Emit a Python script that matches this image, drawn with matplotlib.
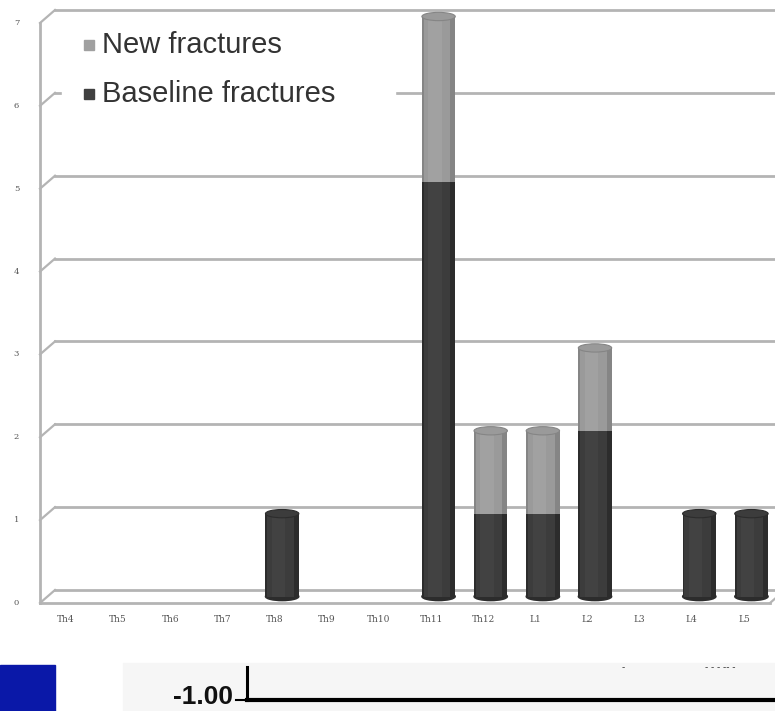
import matplotlib.pyplot as plt
import matplotlib.transforms as mtransforms
from matplotlib.patches import Ellipse, Rectangle
import numpy as np

plt.rcParams['font.family'] = ['Liberation Sans', 'DejaVu Sans']

levels = ["Th4", "Th5", "Th6", "Th7", "Th8", "Th9", "Th10",
          "Th11", "Th12", "L1", "L2", "L3", "L4", "L5"]
baseline = [0, 0, 0, 0, 1, 0, 0, 5, 1, 1, 2, 0, 1, 1]
new = [0, 0, 0, 0, 0, 0, 0, 2, 1, 1, 1, 0, 0, 0]
yticks = [0, 1, 2, 3, 4, 5, 6, 7]

W, H = 775, 711
fig = plt.figure(figsize=(W / 100, H / 100), dpi=100)
fig.patch.set_facecolor("white")

# front plane of the 3-D box: x 40..770 px, y(0)=603 px, y(7)=23 px
ax = fig.add_axes([40 / W, (H - 603) / H, 730 / W, 580 / H])
ax.set_xlim(-0.5, len(levels) - 0.5)
ax.set_ylim(0, 7)
ax.axis("off")

depth = mtransforms.ScaledTranslation(0.15, 0.13, fig.dpi_scale_trans)
half = mtransforms.ScaledTranslation(0.075, 0.065, fig.dpi_scale_trans)
back = ax.transData + depth
mid = ax.transData + half

grid_c = "#b4b4b4"
x0, x1 = -0.5, len(levels) - 0.5

# back wall gridlines and slanted connectors on the side wall
for v in yticks:
    ax.plot([x0, x1], [v, v], color=grid_c, lw=2.0, transform=back,
            clip_on=False, zorder=1)
    p0 = ax.transData.transform((x0, v))
    p1 = back.transform((x0, v))
    fig.add_artist(plt.Line2D([p0[0] / W, p1[0] / W], [p0[1] / H, p1[1] / H],
                              color=grid_c, lw=1.6, zorder=1))
# front vertical axis, floor front edge and right floor edge
ax.plot([x0, x0], [0, 7], color=grid_c, lw=2.0, clip_on=False, zorder=1)
ax.plot([x0, x1], [0, 0], color=grid_c, lw=2.0, clip_on=False, zorder=1)
p0 = ax.transData.transform((x1, 0))
p1 = back.transform((x1, 0))
fig.add_artist(plt.Line2D([p0[0] / W, p1[0] / W], [p0[1] / H, p1[1] / H],
                          color=grid_c, lw=1.6, zorder=1))

for v in yticks:
    ax.text(-0.95, v, str(v), transform=ax.transData, fontsize=6,
            color="#555555", ha="center", va="center", family="DejaVu Serif")
for i, lab in enumerate(levels):
    ax.text(i, -0.2, lab, fontsize=6.5, color="#555555", ha="center",
            va="center", family="DejaVu Serif")


def cylinder(xc, bottom, height, col, light, dark, cap_top, first):
    w = 0.64
    # shaded body from layered bars
    ax.bar(xc, height, bottom=bottom, width=w, color=dark, transform=mid,
           zorder=3, clip_on=False)
    ax.bar(xc - 0.03, height, bottom=bottom, width=w * 0.8, color=col,
           transform=mid, zorder=3, clip_on=False)
    ax.bar(xc - 0.07, height, bottom=bottom, width=w * 0.4, color=light,
           transform=mid, zorder=3, alpha=0.5, clip_on=False)
    eh = 0.1
    if first:
        ax.add_patch(Ellipse((xc, bottom), w, eh, color=dark, transform=mid,
                             zorder=2, clip_on=False))
    if cap_top:
        ax.add_patch(Ellipse((xc, bottom + height), w, eh, facecolor=col,
                             edgecolor=dark, lw=0.8, transform=mid, zorder=4,
                             clip_on=False))


for i in range(len(levels)):
    b, n = baseline[i], new[i]
    if b > 0:
        cylinder(i, 0, b, "#3c3c3c", "#484848", "#2c2c2c", n == 0, True)
    if n > 0:
        cylinder(i, b, n, "#9a9a9a", "#a8a8a8", "#858585", True, b == 0)

# legend block with white background
fig.add_artist(Rectangle((62 / W, 1 - 118 / H), 333 / W, 95 / H,
                         transform=fig.transFigure, color="white", zorder=2))
fig.add_artist(Rectangle((84 / W, 1 - 50 / H), 10 / W, 10 / H,
                         transform=fig.transFigure, color="#a0a0a0", zorder=3))
fig.add_artist(Rectangle((84 / W, 1 - 99 / H), 10 / W, 10 / H,
                         transform=fig.transFigure, color="#404040", zorder=3))
fig.text(102 / W, 1 - 45 / H, "New fractures", fontsize=21, color="#333333",
         va="center", ha="left", zorder=4)
fig.text(102 / W, 1 - 94 / H, "Baseline fractures", fontsize=21, color="#333333",
         va="center", ha="left", zorder=4)

# strip of the next figure along the bottom edge
fig.add_artist(Rectangle((0, 0), 55 / W, 46 / H, transform=fig.transFigure,
                         color="#0a18a8", zorder=2))
fig.add_artist(Rectangle((123 / W, 0), 652 / W, 48 / H, transform=fig.transFigure,
                         color="#f6f6f6", zorder=1))
fig.add_artist(plt.Line2D([247 / W, 1], [1 - 700 / H, 1 - 700 / H], color="black",
                          lw=3.0, zorder=3))
fig.add_artist(plt.Line2D([247 / W, 247 / W], [1 - 700 / H, 1 - 667 / H],
                          color="black", lw=2.2, zorder=3))
fig.add_artist(plt.Line2D([236 / W, 247 / W], [1 - 700 / H, 1 - 700 / H],
                          color="black", lw=1.5, zorder=3))
fig.text(233 / W, 1 - 697 / H, "-1.00", fontsize=19, fontweight="bold",
         color="#111111", ha="right", va="center")
fig.text(623 / W, 1 - 667 / H, "-", fontsize=7, color="#333333", ha="center", va="center")
fig.text(720 / W, 1 - 667 / H, "- - - -- -", fontsize=7, color="#333333",
         ha="center", va="center")

fig.savefig("out.png", dpi=100, facecolor="white")
